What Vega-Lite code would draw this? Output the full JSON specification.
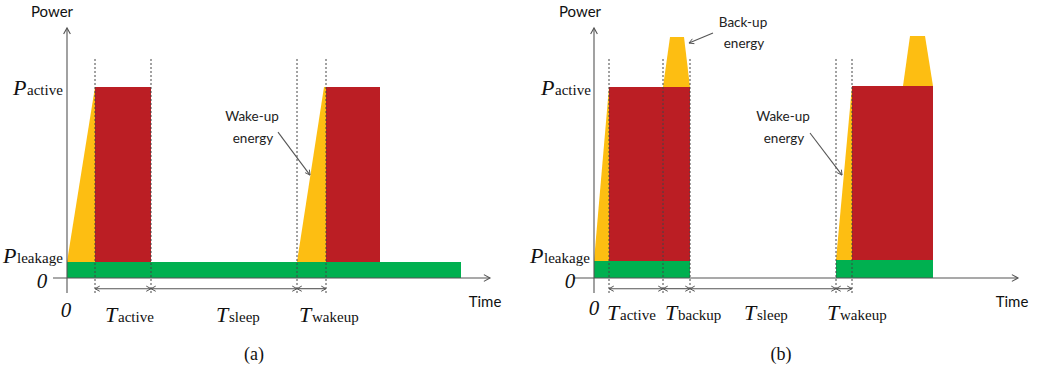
{
  "$schema": "https://vega.github.io/schema/vega-lite/v6.json",
  "background": "white",
  "padding": 0,
  "spacing": 0,
  "config": {"view": {"stroke": null}},
  "datasets": {
    "rects": [
      {"panel": "a", "part": "leakage", "x": 0, "x2": 39.4, "y": 0, "y2": 0.84},
      {"panel": "a", "part": "active", "x": 2.8, "x2": 8.4, "y": 0.84, "y2": 10},
      {"panel": "a", "part": "active", "x": 25.9, "x2": 31.3, "y": 0.84, "y2": 10},
      {"panel": "b", "part": "leakage", "x": 0, "x2": 9.6, "y": 0, "y2": 0.89},
      {"panel": "b", "part": "active", "x": 1.5, "x2": 9.6, "y": 0.89, "y2": 10},
      {"panel": "b", "part": "leakage", "x": 24.2, "x2": 33.9, "y": 0, "y2": 0.94},
      {"panel": "b", "part": "active", "x": 25.8, "x2": 33.9, "y": 0.94, "y2": 10.05}
    ],
    "polys": [
      {"panel": "a", "shape": "a1", "x": 0, "y": 0.84, "y2": 0.84},
      {"panel": "a", "shape": "a1", "x": 2.8, "y": 10, "y2": 0.84},
      {"panel": "a", "shape": "a2", "x": 23.0, "y": 0.84, "y2": 0.84},
      {"panel": "a", "shape": "a2", "x": 25.7, "y": 10, "y2": 0.84},
      {"panel": "a", "shape": "a2", "x": 25.9, "y": 10, "y2": 0.84},
      {"panel": "b", "shape": "b1", "x": 0, "y": 0.89, "y2": 0.89},
      {"panel": "b", "shape": "b1", "x": 1.5, "y": 10, "y2": 0.89},
      {"panel": "b", "shape": "b2", "x": 6.9, "y": 10, "y2": 10},
      {"panel": "b", "shape": "b2", "x": 7.6, "y": 12.62, "y2": 10},
      {"panel": "b", "shape": "b2", "x": 9.0, "y": 12.62, "y2": 10},
      {"panel": "b", "shape": "b2", "x": 9.6, "y": 10, "y2": 10},
      {"panel": "b", "shape": "b3", "x": 24.2, "y": 0.94, "y2": 0.94},
      {"panel": "b", "shape": "b3", "x": 25.8, "y": 10.05, "y2": 0.94},
      {"panel": "b", "shape": "b4", "x": 30.9, "y": 10.05, "y2": 10.05},
      {"panel": "b", "shape": "b4", "x": 31.6, "y": 12.67, "y2": 10.05},
      {"panel": "b", "shape": "b4", "x": 33.1, "y": 12.67, "y2": 10.05},
      {"panel": "b", "shape": "b4", "x": 33.9, "y": 10.05, "y2": 10.05}
    ],
    "lines": [
      {"panel": "a", "kind": "axis", "x": 0, "x2": 0, "y": -0.785, "y2": 13.09},
      {"panel": "a", "kind": "axis", "x": -1.4, "x2": 42.3, "y": 0, "y2": 0},
      {"panel": "a", "kind": "dash", "x": 2.8, "x2": 2.8, "y": -0.785, "y2": 11.57},
      {"panel": "a", "kind": "dash", "x": 8.4, "x2": 8.4, "y": -0.785, "y2": 11.57},
      {"panel": "a", "kind": "dash", "x": 23.0, "x2": 23.0, "y": -0.785, "y2": 11.57},
      {"panel": "a", "kind": "dash", "x": 25.9, "x2": 25.9, "y": -0.785, "y2": 11.57},
      {"panel": "a", "kind": "dim", "x": 2.8, "x2": 8.4, "y": -0.56, "y2": -0.56},
      {"panel": "a", "kind": "dim", "x": 8.4, "x2": 23.0, "y": -0.56, "y2": -0.56},
      {"panel": "a", "kind": "dim", "x": 23.0, "x2": 25.9, "y": -0.56, "y2": -0.56},
      {"panel": "a", "kind": "ptr", "x": 21.1, "x2": 24.3, "y": 7.64, "y2": 5.39},
      {"panel": "b", "kind": "axis", "x": 0, "x2": 0, "y": -0.785, "y2": 13.09},
      {"panel": "b", "kind": "axis", "x": -2.1, "x2": 42.4, "y": 0, "y2": 0},
      {"panel": "b", "kind": "dash", "x": 1.5, "x2": 1.5, "y": -0.785, "y2": 11.57},
      {"panel": "b", "kind": "dash", "x": 6.9, "x2": 6.9, "y": -0.785, "y2": 11.57},
      {"panel": "b", "kind": "dash", "x": 9.6, "x2": 9.6, "y": -0.785, "y2": 11.57},
      {"panel": "b", "kind": "dash", "x": 24.2, "x2": 24.2, "y": -0.785, "y2": 11.57},
      {"panel": "b", "kind": "dash", "x": 25.8, "x2": 25.8, "y": -0.785, "y2": 11.57},
      {"panel": "b", "kind": "dim", "x": 1.5, "x2": 6.9, "y": -0.56, "y2": -0.56},
      {"panel": "b", "kind": "dim", "x": 6.9, "x2": 9.6, "y": -0.56, "y2": -0.56},
      {"panel": "b", "kind": "dim", "x": 9.6, "x2": 24.2, "y": -0.56, "y2": -0.56},
      {"panel": "b", "kind": "dim", "x": 24.2, "x2": 25.8, "y": -0.56, "y2": -0.56},
      {"panel": "b", "kind": "ptr", "x": 11.9, "x2": 9.5, "y": 12.83, "y2": 12.3},
      {"panel": "b", "kind": "ptr", "x": 21.6, "x2": 24.8, "y": 7.59, "y2": 5.39}
    ],
    "heads": [
      {"panel": "a", "kind": "axis", "dir": "up", "x": 0, "y": 13.09},
      {"panel": "a", "kind": "axis", "dir": "right", "x": 42.3, "y": 0},
      {"panel": "a", "kind": "dim", "dir": "left", "x": 2.8, "y": -0.56},
      {"panel": "a", "kind": "dim", "dir": "right", "x": 8.4, "y": -0.56},
      {"panel": "a", "kind": "dim", "dir": "left", "x": 8.4, "y": -0.56},
      {"panel": "a", "kind": "dim", "dir": "right", "x": 23.0, "y": -0.56},
      {"panel": "a", "kind": "dim", "dir": "left", "x": 23.0, "y": -0.56},
      {"panel": "a", "kind": "dim", "dir": "right", "x": 25.9, "y": -0.56},
      {"panel": "a", "kind": "ptr", "dir": "wake", "x": 24.3, "y": 5.39},
      {"panel": "b", "kind": "axis", "dir": "up", "x": 0, "y": 13.09},
      {"panel": "b", "kind": "axis", "dir": "right", "x": 42.4, "y": 0},
      {"panel": "b", "kind": "dim", "dir": "left", "x": 1.5, "y": -0.56},
      {"panel": "b", "kind": "dim", "dir": "right", "x": 6.9, "y": -0.56},
      {"panel": "b", "kind": "dim", "dir": "left", "x": 6.9, "y": -0.56},
      {"panel": "b", "kind": "dim", "dir": "right", "x": 9.6, "y": -0.56},
      {"panel": "b", "kind": "dim", "dir": "left", "x": 9.6, "y": -0.56},
      {"panel": "b", "kind": "dim", "dir": "right", "x": 24.2, "y": -0.56},
      {"panel": "b", "kind": "dim", "dir": "left", "x": 24.2, "y": -0.56},
      {"panel": "b", "kind": "dim", "dir": "right", "x": 25.8, "y": -0.56},
      {"panel": "b", "kind": "ptr", "dir": "backup", "x": 9.5, "y": 12.3},
      {"panel": "b", "kind": "ptr", "dir": "wake", "x": 24.8, "y": 5.39}
    ],
    "texts": [
      {"panel": "a", "kind": "label", "text": "Power", "x": -1.5, "y": 13.93},
      {"panel": "a", "kind": "label", "text": "Time", "x": 41.8, "y": -1.26},
      {"panel": "a", "kind": "big", "text": "P", "x": -5.4, "y": 9.58},
      {"panel": "a", "kind": "small", "text": "active", "x": -4.0, "y": 9.58},
      {"panel": "a", "kind": "big", "text": "P", "x": -6.4, "y": 0.785},
      {"panel": "a", "kind": "small", "text": "leakage", "x": -5.0, "y": 0.785},
      {"panel": "a", "kind": "zero", "text": "0", "x": -2.5, "y": -0.52},
      {"panel": "a", "kind": "zero", "text": "0", "x": -0.1, "y": -2.04},
      {"panel": "a", "kind": "big", "text": "T", "x": 3.8, "y": -2.3},
      {"panel": "a", "kind": "small", "text": "active", "x": 5.1, "y": -2.3},
      {"panel": "a", "kind": "big", "text": "T", "x": 14.9, "y": -2.3},
      {"panel": "a", "kind": "small", "text": "sleep", "x": 16.2, "y": -2.3},
      {"panel": "a", "kind": "big", "text": "T", "x": 23.2, "y": -2.3},
      {"panel": "a", "kind": "small", "text": "wakeup", "x": 24.5, "y": -2.3},
      {"panel": "a", "kind": "cap", "text": "(a)", "x": 18.7, "y": -4.03},
      {"panel": "a", "kind": "note", "text": "Wake-up", "x": 18.5, "y": 8.43},
      {"panel": "a", "kind": "note", "text": "energy", "x": 18.6, "y": 7.28},
      {"panel": "b", "kind": "label", "text": "Power", "x": -1.4, "y": 13.93},
      {"panel": "b", "kind": "label", "text": "Time", "x": 41.8, "y": -1.26},
      {"panel": "b", "kind": "big", "text": "P", "x": -5.3, "y": 9.58},
      {"panel": "b", "kind": "small", "text": "active", "x": -3.9, "y": 9.58},
      {"panel": "b", "kind": "big", "text": "P", "x": -6.4, "y": 0.785},
      {"panel": "b", "kind": "small", "text": "leakage", "x": -5.0, "y": 0.785},
      {"panel": "b", "kind": "zero", "text": "0", "x": -2.4, "y": -0.52},
      {"panel": "b", "kind": "zero", "text": "0", "x": 0, "y": -1.94},
      {"panel": "b", "kind": "big", "text": "T", "x": 1.3, "y": -2.2},
      {"panel": "b", "kind": "small", "text": "active", "x": 2.6, "y": -2.2},
      {"panel": "b", "kind": "big", "text": "T", "x": 7.1, "y": -2.2},
      {"panel": "b", "kind": "small", "text": "backup", "x": 8.4, "y": -2.2},
      {"panel": "b", "kind": "big", "text": "T", "x": 15.0, "y": -2.2},
      {"panel": "b", "kind": "small", "text": "sleep", "x": 16.3, "y": -2.2},
      {"panel": "b", "kind": "big", "text": "T", "x": 23.3, "y": -2.2},
      {"panel": "b", "kind": "small", "text": "wakeup", "x": 24.6, "y": -2.2},
      {"panel": "b", "kind": "cap", "text": "(b)", "x": 18.7, "y": -4.03},
      {"panel": "b", "kind": "note", "text": "Back-up", "x": 14.9, "y": 13.35},
      {"panel": "b", "kind": "note", "text": "energy", "x": 15.0, "y": 12.25},
      {"panel": "b", "kind": "note", "text": "Wake-up", "x": 18.9, "y": 8.43},
      {"panel": "b", "kind": "note", "text": "energy", "x": 19.0, "y": 7.28}
    ]
  },
  "hconcat": [
    {
      "width": 520,
      "height": 373,
      "encoding": {
        "x": {"field": "x", "type": "quantitative", "scale": {"domain": [-6.7, 45.3], "nice": false, "zero": false}, "axis": null},
        "y": {"field": "y", "type": "quantitative", "scale": {"domain": [-4.974, 14.555], "nice": false, "zero": false}, "axis": null, "stack": null}
      },
      "layer": [
        {"data": {"name": "rects"}, "transform": [{"filter": "datum.panel == 'a'"}], "mark": {"type": "rect"},
         "encoding": {"x2": {"field": "x2"}, "y2": {"field": "y2"}, "color": {"field": "part", "type": "nominal", "scale": {"domain": ["leakage", "active"], "range": ["#00B050", "#BB1E24"]}, "legend": null}}},
        {"data": {"name": "polys"}, "transform": [{"filter": "datum.panel == 'a'"}], "mark": {"type": "area", "color": "#FDBE12", "opacity": 1, "interpolate": "linear"},
         "encoding": {"y2": {"field": "y2"}, "detail": {"field": "shape", "type": "nominal"}}},
        {"data": {"name": "lines"}, "transform": [{"filter": "datum.panel == 'a' && datum.kind == 'dash'"}], "mark": {"type": "rule", "color": "#444", "strokeWidth": 1, "strokeDash": [2, 2]},
         "encoding": {"x2": {"field": "x2"}, "y2": {"field": "y2"}}},
        {"data": {"name": "lines"}, "transform": [{"filter": "datum.panel == 'a' && datum.kind != 'dash'"}], "mark": {"type": "rule", "color": "#555", "strokeWidth": 1.1},
         "encoding": {"x2": {"field": "x2"}, "y2": {"field": "y2"}}},
        {"data": {"name": "heads"}, "transform": [{"filter": "datum.panel == 'a' && datum.kind == 'axis'"}], "mark": {"type": "point", "filled": false, "stroke": "#555", "strokeWidth": 1.1, "opacity": 1, "size": 150},
         "encoding": {"shape": {"field": "dir", "type": "nominal", "scale": {"domain": ["right", "left", "up", "wake", "backup"], "range": ["M-1,-0.55L0,0L-1,0.55", "M1,-0.55L0,0L1,0.55", "M-0.55,1L0,0L0.55,1", "M-1.026,-0.501L0,0L-0.126,-1.135", "M0.711,-0.893L0,0L1.135,0.123"]}, "legend": null}}},
        {"data": {"name": "heads"}, "transform": [{"filter": "datum.panel == 'a' && datum.kind != 'axis'"}], "mark": {"type": "point", "filled": false, "stroke": "#555", "strokeWidth": 1, "opacity": 1, "size": 90},
         "encoding": {"shape": {"field": "dir", "type": "nominal", "scale": {"domain": ["right", "left", "up", "wake", "backup"], "range": ["M-1,-0.55L0,0L-1,0.55", "M1,-0.55L0,0L1,0.55", "M-0.55,1L0,0L0.55,1", "M-1.026,-0.501L0,0L-0.126,-1.135", "M0.711,-0.893L0,0L1.135,0.123"]}, "legend": null}}},
        {"data": {"name": "texts"}, "transform": [{"filter": "datum.panel == 'a' && datum.kind == 'big'"}], "mark": {"type": "text", "font": "Liberation Serif", "fontStyle": "italic", "fontSize": 22, "align": "left", "baseline": "alphabetic", "color": "#111"},
         "encoding": {"text": {"field": "text"}}},
        {"data": {"name": "texts"}, "transform": [{"filter": "datum.panel == 'a' && datum.kind == 'small'"}], "mark": {"type": "text", "font": "Liberation Serif", "fontSize": 15, "align": "left", "baseline": "alphabetic", "color": "#111"},
         "encoding": {"text": {"field": "text"}}},
        {"data": {"name": "texts"}, "transform": [{"filter": "datum.panel == 'a' && datum.kind == 'zero'"}], "mark": {"type": "text", "font": "Liberation Serif", "fontStyle": "italic", "fontSize": 21, "align": "center", "baseline": "alphabetic", "color": "#111"},
         "encoding": {"text": {"field": "text"}}},
        {"data": {"name": "texts"}, "transform": [{"filter": "datum.panel == 'a' && datum.kind == 'label'"}], "mark": {"type": "text", "font": "Lato", "fontSize": 15, "align": "center", "baseline": "middle", "color": "#111"},
         "encoding": {"text": {"field": "text"}}},
        {"data": {"name": "texts"}, "transform": [{"filter": "datum.panel == 'a' && datum.kind == 'note'"}], "mark": {"type": "text", "font": "Lato", "fontSize": 13.5, "align": "center", "baseline": "middle", "color": "#222"},
         "encoding": {"text": {"field": "text"}}},
        {"data": {"name": "texts"}, "transform": [{"filter": "datum.panel == 'a' && datum.kind == 'cap'"}], "mark": {"type": "text", "font": "Liberation Serif", "fontSize": 18, "align": "center", "baseline": "middle", "color": "#111"},
         "encoding": {"text": {"field": "text"}}}
      ]
    },
    {
      "width": 521,
      "height": 373,
      "encoding": {
        "x": {"field": "x", "type": "quantitative", "scale": {"domain": [-7.4, 44.7], "nice": false, "zero": false}, "axis": null},
        "y": {"field": "y", "type": "quantitative", "scale": {"domain": [-4.974, 14.555], "nice": false, "zero": false}, "axis": null, "stack": null}
      },
      "layer": [
        {"data": {"name": "rects"}, "transform": [{"filter": "datum.panel == 'b'"}], "mark": {"type": "rect"},
         "encoding": {"x2": {"field": "x2"}, "y2": {"field": "y2"}, "color": {"field": "part", "type": "nominal", "scale": {"domain": ["leakage", "active"], "range": ["#00B050", "#BB1E24"]}, "legend": null}}},
        {"data": {"name": "polys"}, "transform": [{"filter": "datum.panel == 'b'"}], "mark": {"type": "area", "color": "#FDBE12", "opacity": 1, "interpolate": "linear"},
         "encoding": {"y2": {"field": "y2"}, "detail": {"field": "shape", "type": "nominal"}}},
        {"data": {"name": "lines"}, "transform": [{"filter": "datum.panel == 'b' && datum.kind == 'dash'"}], "mark": {"type": "rule", "color": "#444", "strokeWidth": 1, "strokeDash": [2, 2]},
         "encoding": {"x2": {"field": "x2"}, "y2": {"field": "y2"}}},
        {"data": {"name": "lines"}, "transform": [{"filter": "datum.panel == 'b' && datum.kind != 'dash'"}], "mark": {"type": "rule", "color": "#555", "strokeWidth": 1.1},
         "encoding": {"x2": {"field": "x2"}, "y2": {"field": "y2"}}},
        {"data": {"name": "heads"}, "transform": [{"filter": "datum.panel == 'b' && datum.kind == 'axis'"}], "mark": {"type": "point", "filled": false, "stroke": "#555", "strokeWidth": 1.1, "opacity": 1, "size": 150},
         "encoding": {"shape": {"field": "dir", "type": "nominal", "scale": {"domain": ["right", "left", "up", "wake", "backup"], "range": ["M-1,-0.55L0,0L-1,0.55", "M1,-0.55L0,0L1,0.55", "M-0.55,1L0,0L0.55,1", "M-1.026,-0.501L0,0L-0.126,-1.135", "M0.711,-0.893L0,0L1.135,0.123"]}, "legend": null}}},
        {"data": {"name": "heads"}, "transform": [{"filter": "datum.panel == 'b' && datum.kind != 'axis'"}], "mark": {"type": "point", "filled": false, "stroke": "#555", "strokeWidth": 1, "opacity": 1, "size": 90},
         "encoding": {"shape": {"field": "dir", "type": "nominal", "scale": {"domain": ["right", "left", "up", "wake", "backup"], "range": ["M-1,-0.55L0,0L-1,0.55", "M1,-0.55L0,0L1,0.55", "M-0.55,1L0,0L0.55,1", "M-1.026,-0.501L0,0L-0.126,-1.135", "M0.711,-0.893L0,0L1.135,0.123"]}, "legend": null}}},
        {"data": {"name": "texts"}, "transform": [{"filter": "datum.panel == 'b' && datum.kind == 'big'"}], "mark": {"type": "text", "font": "Liberation Serif", "fontStyle": "italic", "fontSize": 22, "align": "left", "baseline": "alphabetic", "color": "#111"},
         "encoding": {"text": {"field": "text"}}},
        {"data": {"name": "texts"}, "transform": [{"filter": "datum.panel == 'b' && datum.kind == 'small'"}], "mark": {"type": "text", "font": "Liberation Serif", "fontSize": 15, "align": "left", "baseline": "alphabetic", "color": "#111"},
         "encoding": {"text": {"field": "text"}}},
        {"data": {"name": "texts"}, "transform": [{"filter": "datum.panel == 'b' && datum.kind == 'zero'"}], "mark": {"type": "text", "font": "Liberation Serif", "fontStyle": "italic", "fontSize": 21, "align": "center", "baseline": "alphabetic", "color": "#111"},
         "encoding": {"text": {"field": "text"}}},
        {"data": {"name": "texts"}, "transform": [{"filter": "datum.panel == 'b' && datum.kind == 'label'"}], "mark": {"type": "text", "font": "Lato", "fontSize": 15, "align": "center", "baseline": "middle", "color": "#111"},
         "encoding": {"text": {"field": "text"}}},
        {"data": {"name": "texts"}, "transform": [{"filter": "datum.panel == 'b' && datum.kind == 'note'"}], "mark": {"type": "text", "font": "Lato", "fontSize": 13.5, "align": "center", "baseline": "middle", "color": "#222"},
         "encoding": {"text": {"field": "text"}}},
        {"data": {"name": "texts"}, "transform": [{"filter": "datum.panel == 'b' && datum.kind == 'cap'"}], "mark": {"type": "text", "font": "Liberation Serif", "fontSize": 18, "align": "center", "baseline": "middle", "color": "#111"},
         "encoding": {"text": {"field": "text"}}}
      ]
    }
  ]
}
